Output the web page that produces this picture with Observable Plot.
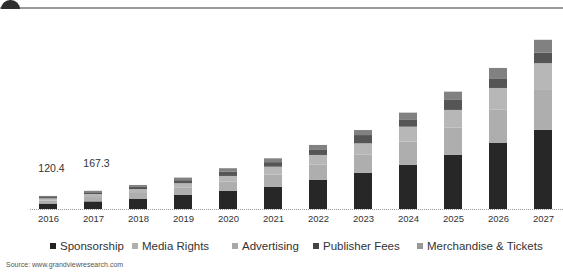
<!DOCTYPE html>
<html><head><meta charset="utf-8">
<script src="https://cdn.jsdelivr.net/npm/d3@7"></script>
<script src="https://cdn.jsdelivr.net/npm/@observablehq/plot@0.6"></script>
<style>
body{margin:0;width:563px;height:272px;position:relative;overflow:hidden;background:#fff;font-family:"Liberation Sans",Arial,sans-serif;}
#chart{position:absolute;left:0;top:0;}
.hdr{position:absolute;left:0;top:7px;width:563px;height:2px;background:#9a9a9a;}
.logo{position:absolute;left:1px;top:0;width:19px;height:9px;background:#2e2e2e;border-radius:9px 9px 0 0;}
#legend{position:absolute;top:240px;left:0;width:563px;height:16px;font-size:11.5px;color:#333;}
.item{position:absolute;top:0;white-space:nowrap;}
.sw{display:inline-block;width:6px;height:6px;margin-right:4px;vertical-align:1px;}
#source{position:absolute;left:6px;top:261px;font-size:7px;color:#555;}
</style></head><body>
<div id="chart"></div>
<div class="hdr"></div><div class="logo"></div>
<div id="legend"></div>
<div id="source">Source: www.grandviewresearch.com</div>
<script>
const years = ["2016","2017","2018","2019","2020","2021","2022","2023","2024","2025","2026","2027"];
const series = ["Sponsorship","Media Rights","Advertising","Publisher Fees","Merchandise & Tickets"];
const sponsorship   = [50, 70, 92, 129, 166, 205, 267, 334, 405, 497, 607, 727];
const mediaRights   = [28, 40, 55, 66, 85, 113, 140, 165, 215, 253, 309, 375];
const advertising   = [20, 28, 36, 42, 53, 71, 90, 105, 137, 161, 197, 239];
const publisherFees = [12, 16, 20, 28, 38, 42, 46, 76, 62, 92, 83, 98];
const merchandise   = [10.4, 13.3, 18, 24, 33, 35, 46, 46, 67, 76, 101, 117];
const labelYears = ["2016","2017"];
const labelTexts = ["120.4","167.3"];
const colors = ["#272727","#aeaeae","#b7b7b7","#555555","#818181"];
const legendColors = ["#222222","#b0b0b0","#a8a8a8","#444444","#999999"];
const legendX = [50, 132, 232, 313, 417];

const cols = [sponsorship, mediaRights, advertising, publisherFees, merchandise];
const data = [];
years.forEach((y, i) => series.forEach((s, j) => data.push({year: y, series: s, value: cols[j][i]})));
const totals = years.map((y, i) => cols.reduce((a, c) => a + c[i], 0));
const labels = labelYears.map((y, k) => ({year: y, total: totals[years.indexOf(y)], text: labelTexts[k]}));

const chart = Plot.plot({
  width: 563, height: 228,
  marginTop: 35, marginBottom: 19, marginLeft: 30, marginRight: 0,
  style: {fontFamily: '"Liberation Sans", Arial, sans-serif', background: "transparent"},
  x: {domain: years, range: [22.75, 568.25], paddingInner: 0.6, paddingOuter: 0.3, label: null},
  y: {domain: [0, 1600], axis: null},
  color: {domain: series, range: colors},
  marks: [
    Plot.barY(data, {x: "year", y: "value", fill: "series", order: series}),
    Plot.ruleY([0], {stroke: "#999", strokeDasharray: "1,1"}),
    Plot.axisX({tickSize: 0, tickPadding: 6, fontSize: 9.5, color: "#333", label: null}),
    Plot.text(labels, {x: "year", y: "total", text: "text", dy: -28, dx: 3, fontSize: 10.5, fill: "#333"})
  ]
});
document.getElementById("chart").appendChild(chart);

const lg = document.getElementById("legend");
series.forEach((s, j) => {
  const d = document.createElement("div");
  d.className = "item";
  d.style.left = legendX[j] + "px";
  d.innerHTML = `<span class="sw" style="background:${legendColors[j]}"></span>${s}`;
  lg.appendChild(d);
});
</script>
</body></html>
